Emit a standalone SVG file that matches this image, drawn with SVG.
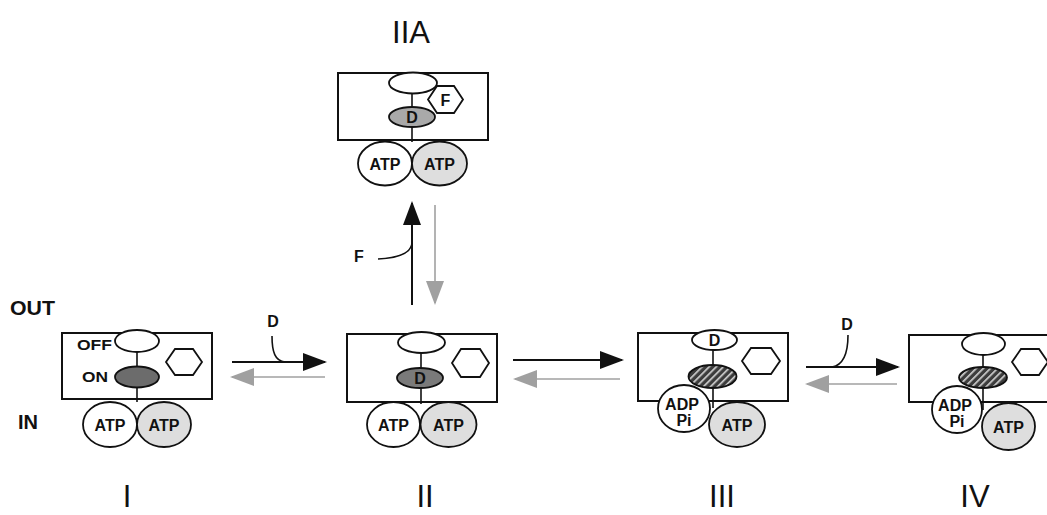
<svg xmlns="http://www.w3.org/2000/svg" width="1047" height="515" viewBox="0 0 1047 515">
  <defs>
    <style>
      .box { fill: #ffffff; stroke: #111; stroke-width: 2; }
      .ov { fill: #ffffff; stroke: #111; stroke-width: 1.8; }
      .on { fill: #6c6c6c; stroke: #111; stroke-width: 1.8; }
      .dd { fill: #7a7a7a; stroke: #111; stroke-width: 1.8; }
      .dl { fill: #a9a9a9; stroke: #111; stroke-width: 1.8; }
      .hat { fill: url(#hatch); stroke: #111; stroke-width: 1.8; }
      .nt { fill: #ffffff; stroke: #111; stroke-width: 1.8; }
      .nt2 { fill: #dedede; stroke: #111; stroke-width: 1.8; }
      .hex { fill: #ffffff; stroke: #111; stroke-width: 1.8; }
      .stem { stroke: #111; stroke-width: 1.6; fill: none; }
      .lbl { font-family: "Liberation Sans", Arial, Helvetica, sans-serif; font-weight: bold; fill: #111; }
      .mol { font-family: "Liberation Sans", Arial, Helvetica, sans-serif; font-weight: bold; font-size: 16px; fill: #111; text-anchor: middle; }
      .num { font-family: "Liberation Sans", Arial, Helvetica, sans-serif; font-size: 31px; fill: #111; text-anchor: middle; }
      .fw { stroke: #111; stroke-width: 2; fill: none; marker-end: url(#headBlack); }
      .bw { stroke: #a0a0a0; stroke-width: 1.6; fill: none; marker-end: url(#headGray); }
      .hook { stroke: #111; stroke-width: 1.6; fill: none; }
    </style>
    <pattern id="hatch" patternUnits="userSpaceOnUse" width="5" height="5" patternTransform="rotate(45)">
      <rect width="5" height="5" fill="#3c3c3c"/>
      <rect x="0" y="0" width="1.6" height="5" fill="#d8d8d8"/>
    </pattern>
    <marker id="headBlack" viewBox="0 0 24 18" refX="22" refY="9" markerWidth="24" markerHeight="18" markerUnits="userSpaceOnUse" orient="auto">
      <path d="M0,0 L24,9 L0,18 Z" fill="#111"/>
    </marker>
    <marker id="headGray" viewBox="0 0 24 18" refX="22" refY="9" markerWidth="24" markerHeight="18" markerUnits="userSpaceOnUse" orient="auto">
      <path d="M0,0 L24,9 L0,18 Z" fill="#a0a0a0"/>
    </marker>
  </defs>

  <rect width="1047" height="515" fill="#ffffff"/>

  <!-- membrane side labels -->
  <text class="lbl" x="10" y="315" font-size="20" textLength="45" lengthAdjust="spacingAndGlyphs">OUT</text>
  <text class="lbl" x="18" y="429" font-size="20">IN</text>

  <!-- state I -->
  <g id="state-I">
    <rect class="box" x="62" y="333" width="150" height="66"/>
    <line class="stem" x1="137" y1="345" x2="137" y2="402"/>
    <ellipse class="ov" cx="137" cy="341" rx="22" ry="11"/>
    <ellipse class="on" cx="137" cy="377" rx="22" ry="10.5"/>
    <polygon class="hex" points="166,362 175,349 193,349 202,362 193,375 175,375"/>
    <text class="lbl" x="77" y="350" font-size="14" textLength="35" lengthAdjust="spacingAndGlyphs">OFF</text>
    <text class="lbl" x="82" y="382" font-size="15" textLength="26" lengthAdjust="spacingAndGlyphs">ON</text>
    <ellipse class="nt" cx="110" cy="424.5" rx="27" ry="22.5"/>
    <ellipse class="nt2" cx="164" cy="424.5" rx="27" ry="22.5"/>
    <text class="mol" x="110" y="430.5">ATP</text>
    <text class="mol" x="164" y="430.5">ATP</text>
    <text class="num" x="127" y="507">I</text>
  </g>

  <!-- state II -->
  <g id="state-II">
    <rect class="box" x="347" y="334" width="150" height="68"/>
    <line class="stem" x1="421" y1="345" x2="421" y2="404"/>
    <ellipse class="ov" cx="421.5" cy="342.5" rx="23.5" ry="10.5"/>
    <ellipse class="dd" cx="420" cy="378" rx="23" ry="10"/>
    <text class="mol" x="420" y="384">D</text>
    <polygon class="hex" points="452,363 461,349 480,349 489,363 480,377 461,377"/>
    <ellipse class="nt" cx="393.5" cy="424.5" rx="26.5" ry="22.5"/>
    <ellipse class="nt2" cx="448.5" cy="424.5" rx="28" ry="22.5"/>
    <text class="mol" x="393.5" y="430.5">ATP</text>
    <text class="mol" x="448.5" y="430.5">ATP</text>
    <text class="num" x="425" y="507">II</text>
  </g>

  <!-- state IIA -->
  <g id="state-IIA">
    <text class="num" x="411" y="43" font-size="28">IIA</text>
    <rect class="box" x="338" y="73" width="150" height="67"/>
    <line class="stem" x1="412" y1="90" x2="412" y2="142"/>
    <ellipse class="ov" cx="413" cy="83" rx="24" ry="10.5"/>
    <ellipse class="dl" cx="412" cy="117" rx="23" ry="10"/>
    <text class="mol" x="412" y="123">D</text>
    <polygon class="hex" points="428,99.5 437,86 454,86 463,99.5 454,113 437,113"/>
    <text class="mol" x="445.5" y="105.5">F</text>
    <ellipse class="nt" cx="385" cy="163.5" rx="27" ry="22"/>
    <ellipse class="nt2" cx="439.5" cy="163.5" rx="27.5" ry="22"/>
    <text class="mol" x="385" y="169.5">ATP</text>
    <text class="mol" x="439.5" y="169.5">ATP</text>
  </g>

  <!-- state III -->
  <g id="state-III">
    <rect class="box" x="638" y="333" width="150" height="68"/>
    <line class="stem" x1="713" y1="345" x2="713" y2="408"/>
    <ellipse class="ov" cx="714.5" cy="340" rx="22.5" ry="10"/>
    <text class="mol" x="714.5" y="346">D</text>
    <polygon class="hex" points="742,361 751,348 771,348 780,361 771,374 751,374"/>
    <ellipse class="nt" cx="684" cy="408.5" rx="26" ry="23.5"/>
    <ellipse class="nt2" cx="737" cy="424.5" rx="28" ry="22.5"/>
    <ellipse class="hat" cx="712.5" cy="376.5" rx="24" ry="11.5"/>
    <text class="mol" x="682" y="410" font-size="14">ADP</text>
    <text class="mol" x="684" y="426" font-size="14">Pi</text>
    <text class="mol" x="737" y="430.5">ATP</text>
    <text class="num" x="722" y="507">III</text>
  </g>

  <!-- state IV (runs off the right edge) -->
  <g id="state-IV">
    <rect class="box" x="909" y="335" width="160" height="67"/>
    <line class="stem" x1="983" y1="350" x2="983" y2="410"/>
    <ellipse class="ov" cx="983.5" cy="344" rx="21.5" ry="11"/>
    <polygon class="hex" points="1012,362 1021,349 1039,349 1048,362 1039,375 1021,375"/>
    <ellipse class="nt" cx="957" cy="409.5" rx="25" ry="23.5"/>
    <ellipse class="nt2" cx="1008.5" cy="426.5" rx="26.5" ry="23.5"/>
    <ellipse class="hat" cx="983" cy="377.5" rx="24" ry="10.5"/>
    <text class="mol" x="955" y="411" font-size="14">ADP</text>
    <text class="mol" x="957" y="427" font-size="14">Pi</text>
    <text class="mol" x="1008.5" y="432.5">ATP</text>
    <text class="num" x="975" y="507">IV</text>
  </g>

  <!-- reaction arrows -->
  <g id="connectors">
    <!-- I <-> II, D binds -->
    <path class="fw" d="M232,362 H325"/>
    <path class="bw" d="M325,377 H232"/>
    <path class="hook" d="M272,336 C272,352 275,361 285,362"/>
    <text class="lbl" x="273" y="327" font-size="16" text-anchor="middle">D</text>

    <!-- II <-> III -->
    <path class="fw" d="M513,360 H622"/>
    <path class="bw" d="M620,379 H515"/>

    <!-- III <-> IV, D binds -->
    <path class="fw" d="M806,367 H898"/>
    <path class="bw" d="M897,384 H807"/>
    <path class="hook" d="M848,335 C848,352 844,365 832,367"/>
    <text class="lbl" x="847" y="330" font-size="16" text-anchor="middle">D</text>

    <!-- II <-> IIA, F binds -->
    <path class="fw" d="M412,305 V203"/>
    <path class="bw" d="M435,205 V303"/>
    <path class="hook" d="M378,259 C398,258 411,254 412,243"/>
    <text class="lbl" x="359" y="262" font-size="16" text-anchor="middle">F</text>
  </g>
</svg>
